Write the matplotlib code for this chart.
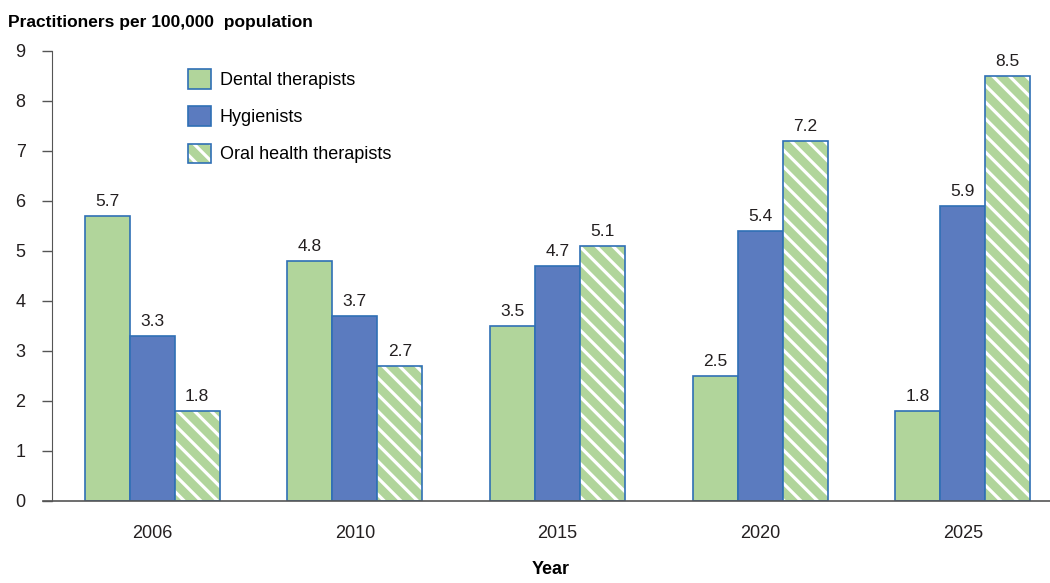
import matplotlib.pyplot as plt
import numpy as np
from matplotlib.patches import Patch

years = ["2006", "2010", "2015", "2020", "2025"]
dental = [5.7, 4.8, 3.5, 2.5, 1.8]
hygienists = [3.3, 3.7, 4.7, 5.4, 5.9]
oral_health = [1.8, 2.7, 5.1, 7.2, 8.5]

plt.rcParams['font.family'] = ['Liberation Sans', 'DejaVu Sans']
plt.rcParams['hatch.linewidth'] = 2.3

green = '#b1d59b'
blue = '#5b7bbf'
edge = '#2f6fb5'
hatch = '\\\\'

fig = plt.figure(figsize=(10.5, 5.83), dpi=100)
ax = fig.add_axes([0.0495, 0.1407, 0.9505, 0.7719])

x = np.arange(len(years))
w = 0.222

b1 = ax.bar(x - w, dental, w, color=green, edgecolor=edge, linewidth=1.2)
b2 = ax.bar(x, hygienists, w, color=blue, edgecolor=edge, linewidth=1.2)
# hatched bars: white stripes drawn first, blue outline on top
ax.bar(x + w, oral_health, w, color=green, edgecolor='white', linewidth=0, hatch=hatch)
b3 = ax.bar(x + w, oral_health, w, fill=False, edgecolor=edge, linewidth=1.2)

for bars, vals in [(b1, dental), (b2, hygienists), (b3, oral_health)]:
    for rect, v in zip(bars, vals):
        ax.text(rect.get_x() + rect.get_width() / 2, v + 0.14, f"{v:.1f}",
                ha='center', va='bottom', fontsize=12.5, color='#231f20')

handles = [
    Patch(facecolor=green, edgecolor=edge, linewidth=1.2),
    Patch(facecolor=blue, edgecolor=edge, linewidth=1.2),
    (Patch(facecolor=green, edgecolor='white', hatch=hatch, linewidth=0),
     Patch(fill=False, edgecolor=edge, linewidth=1.2)),
]
labels = ['Dental therapists', 'Hygienists', 'Oral health therapists']
ax.legend(handles, labels, loc='upper left', bbox_to_anchor=(0.12, 0.995),
          frameon=False, fontsize=13, handlelength=1.3, handleheight=1.3,
          handletextpad=0.45, labelspacing=0.95)

ax.set_xlim(-0.494, 4.43)
ax.set_ylim(0, 9)
ax.set_yticks(range(10))
ax.set_xticks(x)
ax.set_xticklabels(years)
ax.tick_params(axis='y', length=7, width=1, color='#555555', labelsize=13, labelcolor='#231f20', pad=12)
ax.tick_params(axis='x', length=0, labelsize=13, labelcolor='#231f20', pad=17)

for s in ['top', 'right']:
    ax.spines[s].set_visible(False)
ax.spines['left'].set_color('#555555')
ax.spines['bottom'].set_visible(False)
ax.plot([-0.009, 1], [0, 0], transform=ax.get_yaxis_transform(), color='#555555',
        lw=1.2, clip_on=False)

ax.set_xlabel("Year", fontsize=13, fontweight='bold', labelpad=14)
fig.text(0.008, 0.962, "Practitioners per 100,000  population", fontsize=12.5,
         fontweight='bold', ha='left', va='center')

fig.savefig("out.png", dpi=100)
